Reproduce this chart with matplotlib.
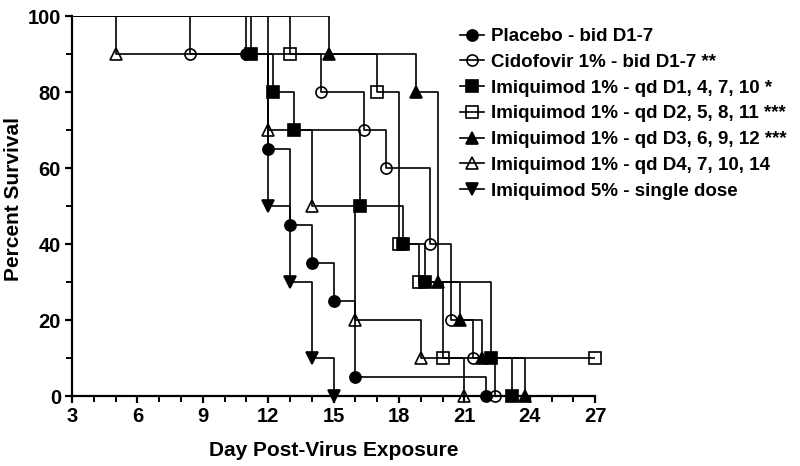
import matplotlib
matplotlib.use("Agg")
import matplotlib.pyplot as plt
from matplotlib.ticker import MultipleLocator

plt.rcParams['font.family'] = ['Liberation Sans', 'DejaVu Sans']
plt.rcParams['font.weight'] = 'bold'

# survival curves: (day, percent surviving), all start at day 0 with 100 %
placebo_days = [0, 11, 12, 13, 14, 15, 16, 22]
placebo_surv = [100, 90, 65, 45, 35, 25, 5, 0]

cido_days = [0, 8.4, 14.4, 16.4, 17.4, 19.4, 20.4, 21.4, 22.4]
cido_surv = [100, 90, 80, 70, 60, 40, 20, 10, 0]

imq_d1_days = [0, 11.2, 12.2, 13.2, 16.2, 18.2, 19.2, 22.2, 23.2]
imq_d1_surv = [100, 90, 80, 70, 50, 40, 30, 10, 0]

imq_d2_days = [0, 13, 17, 18, 18.9, 20, 27]
imq_d2_surv = [100, 90, 80, 40, 30, 10, 10]

imq_d3_days = [0, 14.8, 18.8, 19.8, 20.8, 21.8, 23.8]
imq_d3_surv = [100, 90, 80, 30, 20, 10, 0]

imq_d4_days = [0, 5, 12, 14, 16, 19, 21]
imq_d4_surv = [100, 90, 70, 50, 20, 10, 0]

imq5_days = [0, 12, 13, 14, 15]
imq5_surv = [100, 50, 30, 10, 0]

labels = ['Placebo - bid D1-7',
          'Cidofovir 1% - bid D1-7 **',
          'Imiquimod 1% - qd D1, 4, 7, 10 *',
          'Imiquimod 1% - qd D2, 5, 8, 11 ***',
          'Imiquimod 1% - qd D3, 6, 9, 12 ***',
          'Imiquimod 1% - qd D4, 7, 10, 14',
          'Imiquimod 5% - single dose']

series = [(placebo_days, placebo_surv, 'o', 'black'),
          (cido_days, cido_surv, 'o', 'none'),
          (imq_d1_days, imq_d1_surv, 's', 'black'),
          (imq_d2_days, imq_d2_surv, 's', 'none'),
          (imq_d3_days, imq_d3_surv, '^', 'black'),
          (imq_d4_days, imq_d4_surv, '^', 'none'),
          (imq5_days, imq5_surv, 'v', 'black')]

fig = plt.figure(figsize=(8, 4.66), dpi=100)
ax = fig.add_axes([0.09, 0.15, 0.654, 0.815])

handles = []
for (days, surv, mk, face), lab in zip(series, labels):
    ax.plot(days, surv, drawstyle='steps-post', color='black', lw=1.2, zorder=2)
    # markers drawn separately so the one on day 27 is not clipped
    ax.plot(days[1:], surv[1:], ls='none', marker=mk, ms=8, mfc=face,
            mec='black', mew=1.2, clip_on=False, zorder=3)
    h, = ax.plot([], [], color='black', lw=1.2, marker=mk, ms=8, mfc=face,
                 mec='black', mew=1.2)
    handles.append(h)

ax.set_xlim(3, 27)
ax.set_ylim(0, 100)
ax.xaxis.set_major_locator(MultipleLocator(3))
ax.xaxis.set_minor_locator(MultipleLocator(1))
ax.yaxis.set_major_locator(MultipleLocator(20))
ax.yaxis.set_minor_locator(MultipleLocator(10))

for s in ['top', 'right']:
    ax.spines[s].set_visible(False)
for s in ['left', 'bottom']:
    ax.spines[s].set_linewidth(1.6)

ax.tick_params(which='major', length=5, width=1.6, labelsize=14.5, pad=3)
ax.tick_params(which='minor', length=4, width=1.4)
for t in ax.get_xticklabels() + ax.get_yticklabels():
    t.set_fontweight('bold')

ax.set_xlabel('Day Post-Virus Exposure', fontsize=15, fontweight='bold')
ax.set_ylabel('Percent Survival', fontsize=15, fontweight='bold')
ax.xaxis.set_label_coords(0.5, -0.118)
ax.yaxis.set_label_coords(-0.094, 0.52)

fig.legend(handles, labels, loc='upper left', bbox_to_anchor=(0.575, 0.94),
           frameon=False, handlelength=1.3, handletextpad=0.35,
           labelspacing=0.46, borderpad=0, borderaxespad=0,
           prop={'weight': 'bold', 'size': 13.5})

fig.savefig('out.png', dpi=100)
